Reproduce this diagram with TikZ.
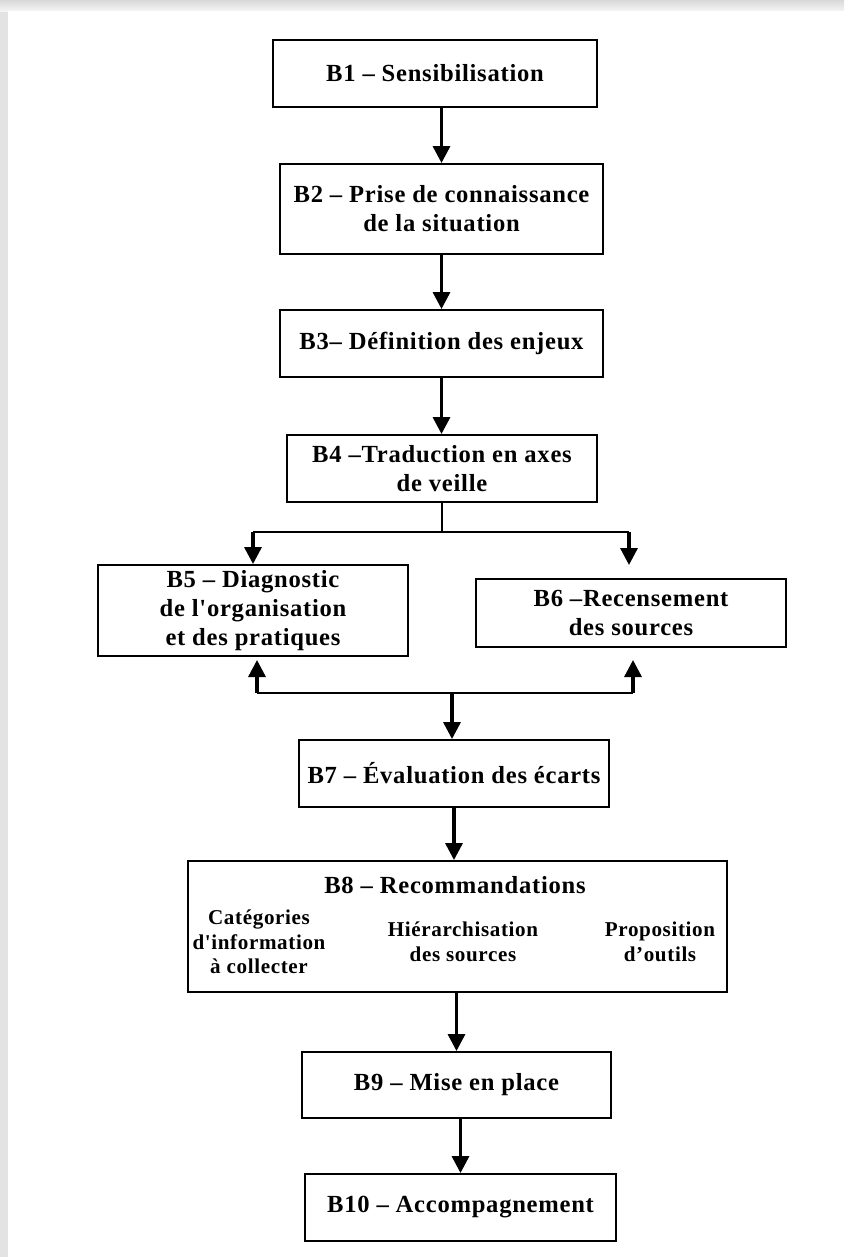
\documentclass[tikz,border=0pt]{standalone}
\usepackage{fontspec}
\setmainfont{Liberation Serif}
\newfontfamily\etape{Liberation Serif}[LetterSpace=3.0]
\usepackage{tikz}
\usetikzlibrary{arrows.meta}

\tikzset{
  boite/.style={draw, line width=1.1pt, align=center, inner sep=0pt,
    font=\etape\bfseries\fontsize{14}{16.5}\selectfont},
  souspoint/.style={align=center, inner sep=0pt,
    font=\etape\bfseries\fontsize{12}{14}\selectfont},
  fleche/.style={line width=1.9pt, -{Triangle[width=0.34cm,length=0.34cm]}},
  trait/.style={line width=1.2pt}
}

\begin{document}
\begin{tikzpicture}
      % Fond de page
      \useasboundingbox (0,0) rectangle (16.88,-25.14);
      \fill[gray!22] (0,0) rectangle (16.88,-25.14);
      \shade[top color=gray!30, bottom color=gray!8] (0,0) rectangle (16.88,-0.22);
      \fill[white] (0.16,-0.22) rectangle (16.88,-25.14);
      % Etapes
      \node[boite, minimum width=6.48cm, minimum height=1.34cm] (B1) at (8.70,-1.47) {B1 – Sensibilisation};
      \node[boite, minimum width=6.46cm, minimum height=1.80cm] (B2) at (8.83,-4.18) {B2 – Prise de connaissance\\de la situation};
      \node[boite, minimum width=6.46cm, minimum height=1.34cm] (B3) at (8.83,-6.87) {B3– Définition des enjeux};
      \node[boite, minimum width=6.20cm, minimum height=1.34cm] (B4) at (8.84,-9.37) {B4 –Traduction en axes\\de veille};
      \node[boite, minimum width=6.20cm, minimum height=1.82cm] (B5) at (5.06,-12.21) {B5 – Diagnostic\\de l'organisation\\et des pratiques};
      \node[boite, minimum width=6.20cm, minimum height=1.36cm] (B6) at (12.62,-12.26) {B6 –Recensement\\des sources};
      \node[boite, minimum width=6.20cm, minimum height=1.34cm] (B7) at (9.08,-15.47) {B7 – Évaluation des écarts};
      % B8 et ses trois volets
      \node[boite, minimum width=10.78cm, minimum height=2.62cm] (B8) at (9.15,-18.53) {};
      \node[boite, draw=none] (B8titre) at (9.10,-17.70) {B8 – Recommandations};
      \node[souspoint] (cat) at (5.18,-18.84) {Catégories\\d'information\\à collecter};
      \node[souspoint] (hier) at (9.26,-18.83) {Hiérarchisation\\des sources};
      \node[souspoint] (prop) at (13.20,-18.83) {Proposition\\d’outils};
      \node[boite, minimum width=6.18cm, minimum height=1.32cm] (B9) at (9.13,-21.70) {B9 – Mise en place};
      \node[boite, minimum width=6.22cm, minimum height=1.34cm] (B10) at (9.21,-24.15) {B10 – Accompagnement};
      % Points de passage des liaisons
      \coordinate (jH) at (8.84,-10.64);
      \coordinate (gH) at (5.06,-10.64);
      \coordinate (dH) at (12.58,-10.64);
      \coordinate (dHbout) at (12.58,-11.30);
      \coordinate (gB) at (5.14,-13.86);
      \coordinate (gBbout) at (5.14,-13.20);
      \coordinate (dB) at (12.66,-13.86);
      \coordinate (dBbout) at (12.66,-13.20);
      \coordinate (jB) at (9.04,-13.86);
      % Fleches
      \draw[fleche] (B1.south -| B2.north) -- (B2.north);
      \draw[fleche] (B2.south) -- (B3.north);
      \draw[fleche] (B3.south) -- (B3.south |- B4.north);
      \draw[trait] (B4.south) -- (jH);
      \draw[trait] (gH) -- (dH);
      \draw[fleche] (gH) -- (B5.north);
      \draw[fleche] (dH) -- (dHbout);
      \draw[trait] (gB) -- (dB);
      \draw[fleche] (gB) -- (gBbout);
      \draw[fleche] (dB) -- (dBbout);
      \draw[fleche] (jB) -- (jB |- B7.north);
      \draw[fleche] (B7.south) -- (B7.south |- B8.north);
      \draw[fleche] (B8.south -| B9.north) -- (B9.north);
      \draw[fleche] (B9.south -| B10.north) -- (B10.north);
\end{tikzpicture}
\end{document}
